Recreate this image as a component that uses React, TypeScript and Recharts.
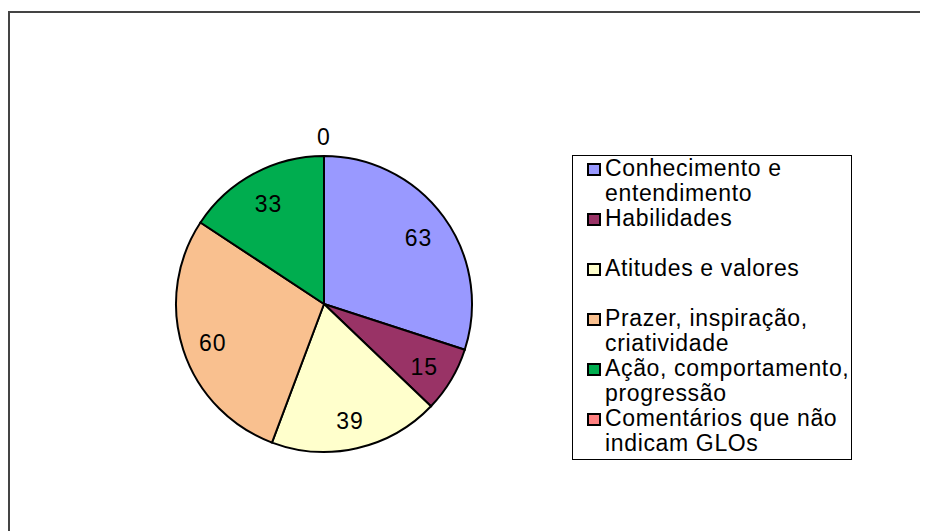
import React from "react";
import { PieChart, Pie, Cell } from "recharts";

const categories = [
  "Conhecimento e entendimento",
  "Habilidades",
  "Atitudes e valores",
  "Prazer, inspiração, criatividade",
  "Ação, comportamento, progressão",
  "Comentários que não indicam GLOs",
];
const legendLines = [
  ["Conhecimento e", "entendimento"],
  ["Habilidades"],
  ["Atitudes e valores"],
  ["Prazer, inspiração,", "criatividade"],
  ["Ação, comportamento,", "progressão"],
  ["Comentários que não", "indicam GLOs"],
];
const values = [63, 15, 39, 60, 33, 0];
const colors = ["#9999FF", "#993366", "#FFFFCC", "#F9C08F", "#00AD4F", "#FF8080"];

const data = categories.map((name, i) => ({ name, value: values[i] }));

const FONT = "'Liberation Sans', Arial, sans-serif";
const RADIAN = Math.PI / 180;

const renderLabel = (props: any) => {
  const { cx, cy, midAngle, outerRadius, value } = props;
  const r = value === 0 ? outerRadius + 22 : outerRadius * 0.79;
  const x = cx + r * Math.cos(-midAngle * RADIAN);
  const y = cy + r * Math.sin(-midAngle * RADIAN) + 3;
  return (
    <text
      x={x}
      y={y}
      textAnchor="middle"
      dominantBaseline="central"
      fill="#000"
      fontSize={23}
      fontFamily={FONT}
      letterSpacing={1}
    >
      {value}
    </text>
  );
};

const LegendBox = () => (
  <div
    style={{
      position: "absolute",
      left: 564,
      top: 147,
      width: 280,
      height: 305,
      border: "1px solid #000",
      boxSizing: "border-box",
      background: "#fff",
      fontFamily: FONT,
      fontSize: 23,
      letterSpacing: 0.65,
    }}
  >
    {legendLines.map((lines, i) => (
      <div key={i} style={{ position: "absolute", left: 0, top: i * 50, width: 278 }}>
        <div
          style={{
            position: "absolute",
            left: 14,
            top: 7,
            width: 14,
            height: 13,
            boxSizing: "border-box",
            background: colors[i],
            border: "2px solid #000",
          }}
        />
        {lines.map((ln, j) => (
          <div
            key={j}
            style={{
              position: "absolute",
              left: 32,
              top: j * 25,
              whiteSpace: "nowrap",
              lineHeight: "25px",
              color: "#000",
            }}
          >
            {ln}
          </div>
        ))}
      </div>
    ))}
  </div>
);

export default function App() {
  return (
    <div style={{ position: "relative", width: 920, height: 523, background: "#fff" }}>
      <div
        style={{
          position: "absolute",
          left: 0,
          top: 3,
          width: 940,
          height: 540,
          borderLeft: "2px solid #444",
          borderTop: "2px solid #444",
          boxSizing: "border-box",
        }}
      />
      <PieChart width={920} height={523} style={{ position: "absolute", left: 0, top: 0 }}>
        <Pie
          data={data}
          dataKey="value"
          nameKey="name"
          cx={311}
          cy={291}
          outerRadius={148}
          startAngle={90}
          endAngle={-270}
          stroke="#000"
          strokeWidth={2}
          label={renderLabel}
          labelLine={false}
          isAnimationActive={false}
        >
          {data.map((d, i) => (
            <Cell key={i} fill={colors[i]} />
          ))}
        </Pie>
      </PieChart>
      <LegendBox />
    </div>
  );
}
